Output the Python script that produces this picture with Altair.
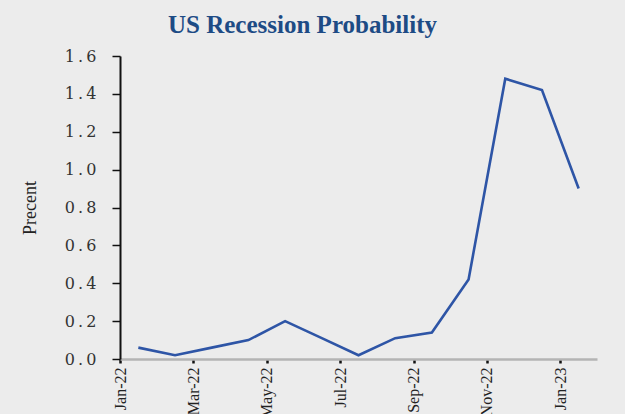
import altair as alt
import pandas as pd

months = ["Jan-22", "Feb-22", "Mar-22", "Apr-22", "May-22", "Jun-22", "Jul-22",
          "Aug-22", "Sep-22", "Oct-22", "Nov-22", "Dec-22", "Jan-23"]
probability = [0.06, 0.02, 0.06, 0.10, 0.20, 0.11, 0.02, 0.11, 0.14, 0.42, 1.48, 1.42, 0.90]
tick_labels = ["Jan-22", "Mar-22", "May-22", "Jul-22", "Sep-22", "Nov-22", "Jan-23"]
y_ticks = [0.0, 0.2, 0.4, 0.6, 0.8, 1.0, 1.2, 1.4, 1.6]

df = pd.DataFrame({"month": months, "value": probability})

chart = alt.Chart(df).mark_line(color="#2e55a6", strokeWidth=2.6).encode(
    x=alt.X("month:O", sort=months,
            scale=alt.Scale(type="point", padding=0.5),
            axis=alt.Axis(title=None, values=tick_labels, labelAngle=-90,
                          labelAlign="right", labelBaseline="middle",
                          labelFont="Liberation Serif", labelFontSize=16,
                          labelColor="#222", labelPadding=4,
                          domainColor="#b4b4b4", domainWidth=2.5,
                          tickColor="#111", tickSize=4, tickWidth=2.5,
                          tickOffset=-18.3)),
    y=alt.Y("value:Q", scale=alt.Scale(domain=[0, 1.6], nice=False),
            axis=alt.Axis(title="Precent", values=y_ticks,
                          labelExpr="replace(format(datum.value, '.1f'), '.', '\u2009.\u2009')",
                          labelFont="DejaVu Serif", labelFontSize=16,
                          labelColor="#333", labelPadding=16,
                          titleFont="Liberation Serif", titleFontSize=18,
                          titleFontWeight="normal", titleColor="#222",
                          titlePadding=25,
                          domainColor="#111", domainWidth=2,
                          tickColor="#111", tickSize=8, tickWidth=1.5,
                          grid=False)),
).properties(
    width=477,
    height=303,
    title=alt.TitleParams("US Recession Probability", font="Liberation Serif",
                          fontSize=25, fontWeight="bold", color="#1d4b85",
                          anchor="middle", dx=-56, offset=10),
    background="#ececec",
    padding={"left": 120, "top": 56, "right": 28, "bottom": 55},
    autosize=alt.AutoSizeParams(type="none"),
).configure_view(stroke=None)

chart.save("out.html", embed_options={"renderer": "svg", "actions": False})
